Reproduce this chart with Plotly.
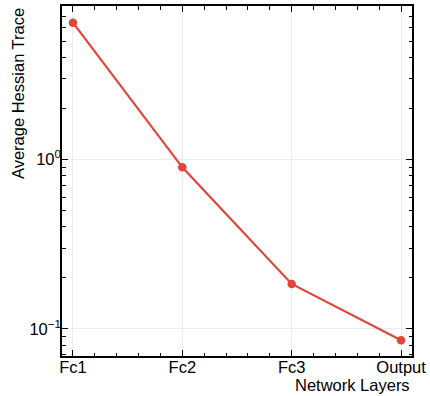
import plotly.graph_objects as go

layers = ["Fc1", "Fc2", "Fc3", "Output"]
hessian_trace = [6.45, 0.90, 0.184, 0.0855]

x_idx = list(range(len(layers)))
red = "#e0463a"
font = "Liberation Sans, Arial, sans-serif"

xr = [-0.1, 3.1]
yr = [-1.161, 0.908]

fig = go.Figure()
fig.add_trace(go.Scatter(
    x=x_idx, y=hessian_trace, mode="lines+markers",
    line=dict(color=red, width=2.2),
    marker=dict(color=red, size=8.5),
    showlegend=False, hoverinfo="skip",
))
# carrier trace for the minor-tick axes
fig.add_trace(go.Scatter(
    x=[x_idx[0]], y=[hessian_trace[0]], xaxis="x2", yaxis="y2",
    mode="markers", marker=dict(opacity=0), showlegend=False, hoverinfo="skip",
))

y_minor = [m * 10 ** e for e in (-2, -1, 0) for m in range(2, 10)]
x_minor = [round(i * 0.2, 2) for i in range(0, 16) if i % 5 != 0]

tickfont = dict(family=font, size=16.5, color="black")

fig.update_layout(
    xaxis=dict(
        range=xr,
        tickmode="array", tickvals=x_idx, ticktext=layers,
        ticks="inside", ticklen=6, tickwidth=1.2, tickcolor="black",
        showline=True, linecolor="black", linewidth=1.5, mirror="allticks",
        showgrid=True, gridcolor="#ececec", gridwidth=1,
        zeroline=False, tickfont=tickfont, ticklabelstandoff=-5,
        ticklabeloverflow="allow",
    ),
    yaxis=dict(
        type="log", range=yr,
        tickmode="array", tickvals=[0.1, 1],
        ticktext=["10<sup>−1</sup>", "10<sup>0</sup>"],
        ticks="inside", ticklen=6, tickwidth=1.2, tickcolor="black",
        showline=True, linecolor="black", linewidth=1.5, mirror="allticks",
        showgrid=True, gridcolor="#ececec", gridwidth=1,
        zeroline=False, tickfont=tickfont, ticklabelstandoff=-4,
        ticklabeloverflow="allow",
    ),
    xaxis2=dict(
        overlaying="x", side="bottom", range=xr,
        tickmode="array", tickvals=x_minor,
        ticks="inside", ticklen=3.5, tickwidth=1, tickcolor="black",
        showticklabels=False, showline=False, mirror="allticks",
        showgrid=False, zeroline=False,
    ),
    yaxis2=dict(
        overlaying="y", side="left", type="log", range=yr,
        tickmode="array", tickvals=y_minor,
        ticks="inside", ticklen=3.5, tickwidth=1, tickcolor="black",
        showticklabels=False, showline=False, mirror="allticks",
        showgrid=False, zeroline=False,
    ),
    width=430, height=396,
    margin=dict(l=62, r=13.5, t=4, b=40),
    plot_bgcolor="white", paper_bgcolor="white",
)

fig.add_annotation(
    text="Network Layers", xref="paper", yref="paper", x=1.0, y=-0.05,
    xanchor="right", yanchor="top", showarrow=False,
    font=dict(family=font, size=16.5, color="black"),
)
fig.add_annotation(
    text="Average Hessian Trace", xref="paper", yref="paper", x=-0.127, y=1.0,
    xanchor="center", yanchor="top", textangle=-90, showarrow=False,
    font=dict(family=font, size=16.5, color="black"),
)

fig.write_html("out.html", config={"displayModeBar": False},
               post_script="document.body.style.margin='0';")
